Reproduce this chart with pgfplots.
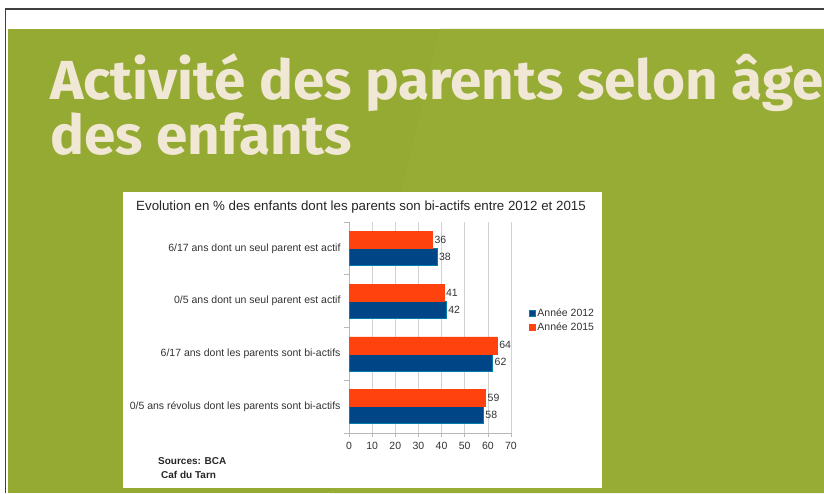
\documentclass[border=0pt]{standalone}
\usepackage{fontspec}
\usepackage{pgfplots}
\pgfplotsset{compat=1.18}
\setmainfont{Liberation Sans}
\newfontfamily\titlefont{Fira Sans}[UprightFont=* Bold, FakeStretch=1.03]
\definecolor{slidegreen}{HTML}{95AA33}
\definecolor{slidegreenlight}{HTML}{97AC35}
\definecolor{titlecream}{HTML}{F0E7D4}
\definecolor{blue12}{HTML}{004586}
\definecolor{orange15}{HTML}{FF420E}
\definecolor{txt}{HTML}{333333}
\begin{document}
\begin{tikzpicture}[x=1pt,y=1pt]
\useasboundingbox (0,0) rectangle (824,493);
\fill[white] (0,0) rectangle (824,493);
\fill[slidegreen] (8,0) rectangle (824,464);
\fill[slidegreenlight] (440,464) -- (824,464) -- (824,0) -- (330,0) -- cycle;
\draw[black!75, line width=1.2pt] (5.5,0) -- (5.5,484) -- (830,484);
\node[anchor=base west, inner sep=0, text=titlecream, font=\titlefont\fontsize{55}{60}\selectfont] at (50,393) {Activité des parents selon âge};
\node[anchor=base west, inner sep=0, text=titlecream, font=\titlefont\fontsize{55}{60}\selectfont] at (50,338) {des enfants};
\fill[white] (123,5) rectangle (602,301);
\node[text=black!85, font=\fontsize{13.3}{15}\selectfont] at (361,286) {Evolution en \% des enfants dont les parents son bi-actifs entre 2012 et 2015};
\node[anchor=base west, inner sep=0, text=black!85, font=\bfseries\fontsize{10}{12}\selectfont] at (158,29) {Sources: BCA};
\node[anchor=base west, inner sep=0, text=black!85, font=\bfseries\fontsize{10}{12}\selectfont] at (161,15) {Caf du Tarn};
\begin{axis}[
  at={(349pt,60pt)}, anchor=south west,
  scale only axis, width=162pt, height=211pt,
  xmin=0, xmax=70, ymin=0.5, ymax=4.5,
  xbar, bar width=17pt,
  axis x line*=bottom, axis y line*=left,
  axis line style={draw=gray!55, line width=0.6pt},
  xtick={0,10,...,70},
  tick align=outside, major tick length=4pt,
  xtick style={draw=gray!55, line width=0.6pt},
  xmajorgrids, grid style={draw=gray!35, line width=0.6pt},
  ytick={1,2,3,4},
  yticklabels={0/5 ans révolus dont les parents sont bi-actifs,6/17 ans dont les parents sont bi-actifs,0/5 ans dont un seul parent est actif,6/17 ans dont un seul parent est actif},
  ytick style={draw=none},
  extra y ticks={0.5,1.5,2.5,3.5,4.5},
  extra y tick labels={},
  extra y tick style={ytick style={draw=gray!55, line width=0.6pt}, major tick length=5pt, grid=none},
  /pgf/number format/assume math mode=true,
  ticklabel style={font=\fontsize{10.5}{12}\selectfont, text=txt},
  xticklabel style={yshift=-2pt},
  yticklabel style={xshift=-1pt},
  nodes near coords,
  nodes near coords style={font=\fontsize{10.5}{12}\selectfont, text=txt, anchor=west, inner sep=2pt},
  legend style={at={(rel axis cs:1.11,0.533)}, anchor=west, draw=none, fill=none, font=\fontsize{10.5}{12}\selectfont, text=txt, row sep=1pt, inner sep=0pt},
  legend cell align=left,
  legend image code/.code={\fill[#1] (0pt,-3pt) rectangle (6pt,3pt);},
  clip=false,
]
\addplot[fill=blue12, draw=blue12!70!cyan, line width=0.4pt, bar shift=-8.5pt] coordinates {(58,1) (62,2) (42,3) (38,4)};
\addlegendentry{Année 2012}
\addplot[fill=orange15, draw=orange15, line width=0.4pt, bar shift=8.5pt] coordinates {(59,1) (64,2) (41,3) (36,4)};
\addlegendentry{Année 2015}
\end{axis}
\end{tikzpicture}
\end{document}
